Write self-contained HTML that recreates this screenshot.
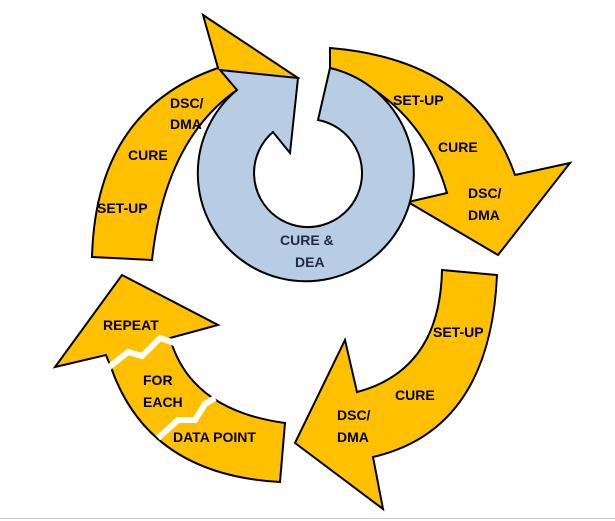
<!DOCTYPE html>
<html><head><style>body{margin:0;background:#fff}svg{display:block}text{font-family:"Liberation Sans",Arial,sans-serif;font-weight:bold;font-size:14px;fill:#000}</style></head>
<body>
<svg width="615" height="521" viewBox="0 0 615 521">
<g stroke="#000" stroke-width="2" stroke-linejoin="miter" fill="#FFC000">
<!-- top-left arrow -->
<path d="M92,257 Q96,110 218,68 L203,15 L298,78 L237,90 Q165,140 152,260 Z"/>
<!-- top-right arrow -->
<path d="M330,48 Q475,60 515,175 L570,163 L498,255 L408,202 L447,193 Q420,100 330,68 Z"/>
<!-- bottom-right arrow -->
<path d="M442,270 L497,275 Q490,430 373,457 L383,509 L295,443 L345,340 L357,392 Q440,370 442,270 Z"/>
<!-- bottom-left arrow -->
<path d="M285,423 L280,482 Q150,475 112,370 L106,355 L55,367 L122,275 L218,325 L170,338 Q190,410 285,423 Z"/>
</g>
<!-- blue ring -->
<path d="M330,68 A108,108 0 1 1 237,90 L220,70 L298,78 L290,153 L273,132 A54,54 0 1 0 318,120 Z" fill="#B8CCE4" stroke="#000" stroke-width="2"/>
<!-- white zigzag cuts -->
<g stroke="#fff" stroke-width="6" fill="none">
<path d="M108,368 L128,352 L142,356 L160,338 L180,345"/>
<path d="M158,438 L178,420 L195,420 L205,404 L215,398"/>
</g>
<text x="170" y="108">DSC/</text><text x="170" y="129">DMA</text>
<text x="128" y="160">CURE</text>
<text x="97" y="213">SET-UP</text>
<text x="393" y="105">SET-UP</text>
<text x="438" y="152">CURE</text>
<text x="468" y="198">DSC/</text><text x="468" y="220">DMA</text>
<text x="280" y="245" style="fill:#1f2a44">CURE &amp;</text><text x="295" y="267" style="fill:#1f2a44">DEA</text>
<text x="433" y="337">SET-UP</text>
<text x="395" y="400">CURE</text>
<text x="337" y="420">DSC/</text><text x="337" y="442">DMA</text>
<text x="103" y="330">REPEAT</text>
<text x="143" y="385">FOR</text><text x="143" y="407">EACH</text>
<text x="173" y="442">DATA POINT</text>
<line x1="0" y1="518.5" x2="615" y2="518.5" stroke="#ccc" stroke-width="1"/>
</svg>
</body></html>
